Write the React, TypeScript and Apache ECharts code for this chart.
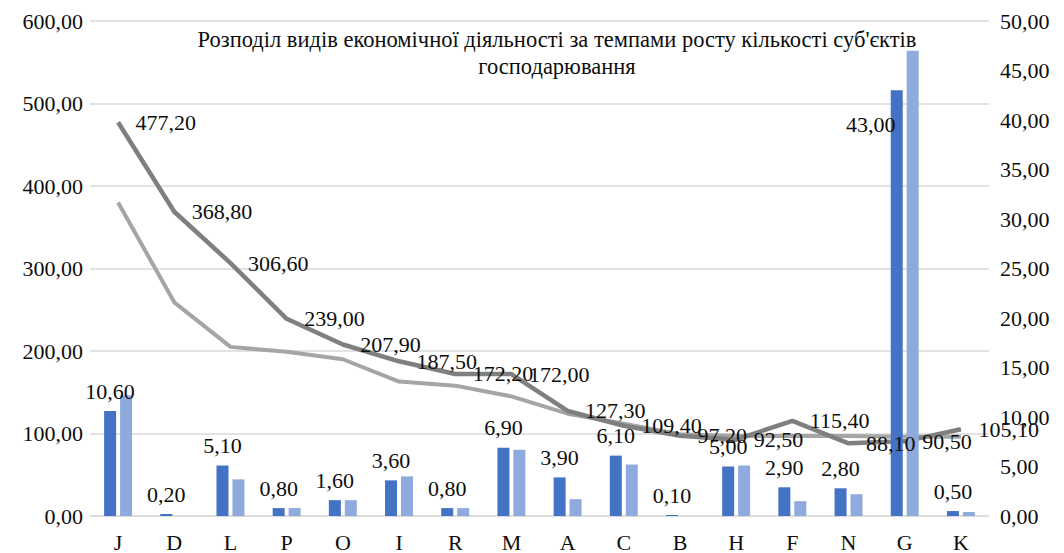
import React, { useEffect, useRef } from "react";
import * as echarts from "echarts";

const categories = ["J", "D", "L", "P", "O", "I", "R", "M", "A", "C", "B", "H", "F", "N", "G", "K"];
// bars (right axis)
const barDark = [10.6, 0.2, 5.1, 0.8, 1.6, 3.6, 0.8, 6.9, 3.9, 6.1, 0.1, 5.0, 2.9, 2.8, 43.0, 0.5];
const barLight = [12.2, 0.0, 3.7, 0.8, 1.6, 4.0, 0.8, 6.7, 1.7, 5.2, 0.0, 5.1, 1.5, 2.2, 47.0, 0.4];
// lines (left axis)
const lineDark = [477.2, 368.8, 306.6, 239.0, 207.9, 187.5, 172.2, 172.0, 127.3, 109.4, 97.2, 92.5, 115.4, 88.1, 90.5, 105.1];
const lineLight = [380, 259, 205, 199, 190, 163, 158, 145, 124, 112, 99, 97, 97, 97, 96, 96];
const titleLines = [
  "Розподіл видів економічної діяльності за темпами росту кількості суб'єктів",
  "господарювання",
];

const fmt = (v: number) => v.toFixed(2).replace(".", ",");
const FONT = "Liberation Serif";
const TXT = "#0d0d0d";

export default function App() {
  const ref = useRef<HTMLDivElement>(null);
  useEffect(() => {
    if (!ref.current) return;
    const chart = echarts.init(ref.current, undefined, { renderer: "svg" });
    chart.setOption({
      animation: false,
      backgroundColor: "#ffffff",
      textStyle: { fontFamily: FONT },
      grid: { left: 90, right: 75, top: 21, bottom: 35, containLabel: false },
      graphic: [
        {
          type: "text",
          x: 557,
          y: 26,
          z: 100,
          style: {
            text: titleLines.join("\n"),
            fontFamily: FONT,
            fontSize: 22.5,
            fill: TXT,
            align: "center",
            lineHeight: 27,
          },
        },
      ],
      xAxis: {
        type: "category",
        data: categories,
        axisLine: { show: true, lineStyle: { color: "#d9d9d9", width: 1 } },
        axisTick: { show: false },
        axisLabel: { color: TXT, fontSize: 22, fontFamily: FONT, margin: 15 },
      },
      yAxis: [
        {
          type: "value",
          min: 0,
          max: 600,
          interval: 100,
          position: "left",
          axisLine: { show: false },
          axisTick: { show: false },
          splitLine: { show: true, lineStyle: { color: "#d9d9d9", width: 1.5 } },
          axisLabel: { color: TXT, fontSize: 22, fontFamily: FONT, margin: 7, formatter: (v: number) => fmt(v) },
        },
        {
          type: "value",
          min: 0,
          max: 50,
          interval: 5,
          position: "right",
          axisLine: { show: false },
          axisTick: { show: false },
          splitLine: { show: false },
          axisLabel: { color: TXT, fontSize: 22, fontFamily: FONT, margin: 11, formatter: (v: number) => fmt(v) },
        },
      ],
      series: [
        {
          type: "line",
          yAxisIndex: 0,
          data: lineLight,
          z: 1,
          symbol: "none",
          lineStyle: { color: "#a5a5a5", width: 4 },
        },
        {
          type: "line",
          yAxisIndex: 0,
          data: lineDark,
          z: 1,
          symbol: "none",
          lineStyle: { color: "#7f7f7f", width: 4.5 },
        },
        {
          type: "bar",
          yAxisIndex: 1,
          z: 2,
          barWidth: 12,
          barGap: "33%",
          itemStyle: { color: "#4472c4" },
          data: barDark.map((v, i) =>
            categories[i] === "G"
              ? {
                  value: v,
                  label: { position: [-20, 34], align: "center", verticalAlign: "middle" },
                }
              : v
          ),
          label: {
            show: true,
            position: "top",
            distance: 9,
            color: TXT,
            fontSize: 22,
            fontFamily: FONT,
            formatter: (p: any) => fmt(p.value),
          },
        },
        {
          type: "bar",
          yAxisIndex: 1,
          z: 2,
          barWidth: 12,
          barGap: "33%",
          itemStyle: { color: "#8faadc" },
          data: barLight,
        },
        {
          type: "line",
          yAxisIndex: 0,
          data: lineDark,
          z: 5,
          symbol: "circle",
          symbolSize: 1,
          itemStyle: { color: "rgba(0,0,0,0)" },
          lineStyle: { width: 0, opacity: 0 },
          label: {
            show: true,
            position: "right",
            distance: 17,
            color: TXT,
            fontSize: 22,
            fontFamily: FONT,
            formatter: (p: any) => fmt(p.value),
          },
        },
      ],
    });
    return () => chart.dispose();
  }, []);
  return (
    <div
      ref={ref}
      style={{ position: "fixed", left: 0, top: 0, width: 1064, height: 553 }}
    />
  );
}
